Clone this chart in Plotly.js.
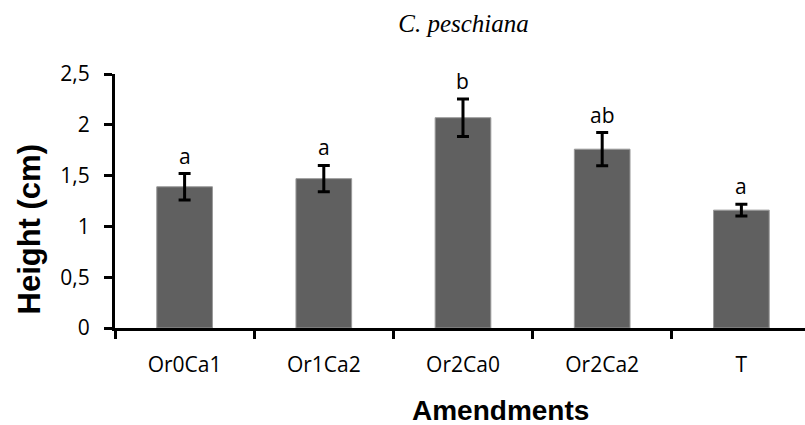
<!DOCTYPE html>
<html>
<head>
<meta charset="utf-8">
<script src="https://cdn.plot.ly/plotly-3.0.1.min.js"></script>
<style>html,body{margin:0;padding:0;background:#fff;}#chart{width:805px;height:425px;}</style>
</head>
<body>
<div id="chart"></div>
<script>
const categories = ["Or0Ca1", "Or1Ca2", "Or2Ca0", "Or2Ca2", "T"];
const heights = [1.39, 1.47, 2.07, 1.76, 1.16];
const errors = [0.13, 0.13, 0.185, 0.163, 0.057];
const letters = ["a", "a", "b", "ab", "a"];
const yTickVals = [0, 0.5, 1, 1.5, 2, 2.5];
const yTickText = ["0", "0,5", "1", "1,5", "2", "2,5"];
const xTitle = "Amendments";
const yTitle = "Height (cm)";
const chartTitle = "C. peschiana";

const tickFont = {family: "Open Sans, sans-serif", size: 21, color: "#000"};
const titleFont = {family: "Liberation Sans, Arial, sans-serif", color: "#000"};

const trace = {
  type: "bar",
  x: categories,
  y: heights,
  width: 0.4,
  marker: {color: "#606060", line: {color: "#9a9a9a", width: 1}},
  error_y: {type: "data", array: errors, visible: true, color: "#000", thickness: 3, width: 6},
  hoverinfo: "none"
};

const annotations = categories.map((c, i) => ({
  x: c, y: heights[i] + errors[i], xref: "x", yref: "y",
  text: letters[i], showarrow: false, yanchor: "bottom", yshift: 2,
  font: tickFont
}));
annotations.push({
  xref: "paper", yref: "paper", x: (501 - 115) / 690, y: -(411 - 328) / 254,
  xanchor: "center", yanchor: "middle", showarrow: false,
  text: "<b>" + xTitle + "</b>", font: Object.assign({size: 28}, titleFont)
});
annotations.push({
  xref: "paper", yref: "paper", x: -(115 - 29) / 690, y: (328 - 229.5) / 254,
  xanchor: "center", yanchor: "middle", showarrow: false, textangle: -90,
  text: "<b>" + yTitle + "</b>", font: Object.assign({size: 31}, titleFont)
});

const layout = {
  width: 805, height: 425,
  margin: {l: 115, r: 0, t: 74, b: 97},
  paper_bgcolor: "#fff", plot_bgcolor: "#fff",
  showlegend: false,
  title: {
    text: "<i>" + chartTitle + "</i>",
    font: {family: "Liberation Serif, serif", size: 25, color: "#000"},
    x: 463.5 / 805, xref: "container", xanchor: "center",
    y: 1 - 23 / 425, yref: "container", yanchor: "middle"
  },
  xaxis: {
    type: "category",
    range: [-0.5, 4.457],
    showline: true, linecolor: "#000", linewidth: 3,
    ticks: "outside", tickson: "boundaries", ticklen: 8, tickwidth: 3, tickcolor: "#000",
    tickfont: tickFont, ticklabelstandoff: 16,
    showgrid: false, zeroline: false, fixedrange: true
  },
  yaxis: {
    range: [0, 2.5],
    tickvals: yTickVals, ticktext: yTickText,
    showline: true, linecolor: "#000", linewidth: 3,
    ticks: "outside", ticklen: 8, tickwidth: 3, tickcolor: "#000",
    tickfont: tickFont, ticklabelstandoff: 10,
    showgrid: false, zeroline: false, fixedrange: true
  },
  annotations: annotations
};

Plotly.newPlot("chart", [trace], layout, {displayModeBar: false, staticPlot: true});
</script>
</body>
</html>
